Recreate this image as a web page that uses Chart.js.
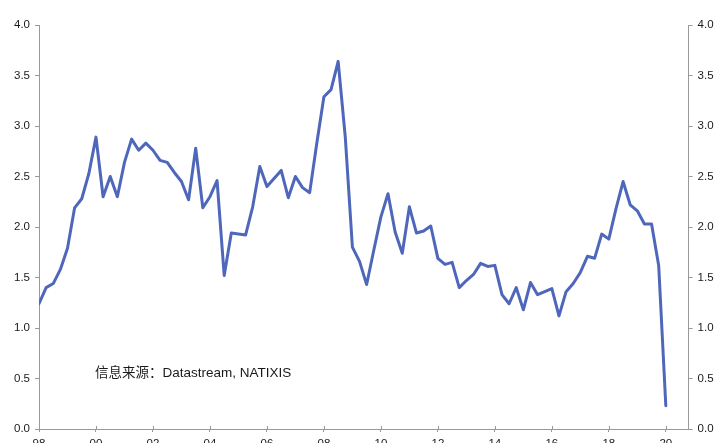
<!DOCTYPE html>
<html>
<head>
<meta charset="utf-8">
<script src="https://cdn.jsdelivr.net/npm/chart.js@4/dist/chart.umd.min.js"></script>
<style>
    html, body { margin: 0; padding: 0; background: #fff; overflow: hidden; }
    #wrap { width: 715px; height: 460px; }
</style>
</head>
<body>
<div id="wrap"><canvas id="lineChart" width="715" height="460"></canvas></div>
<script>
// Quartalswerte, 1998 Q1 bis 2020 Q1
const startYear = 1998;
const values = [
    1.24, 1.40, 1.44, 1.58, 1.79, 2.19, 2.28, 2.53,   // 98-99
    2.89, 2.30, 2.50, 2.30, 2.64, 2.87, 2.76, 2.83,   // 00-01
    2.76, 2.66, 2.64, 2.54, 2.45, 2.27, 2.78, 2.19,   // 02-03
    2.30, 2.46, 1.52, 1.94, 1.93, 1.92, 2.20, 2.60,   // 04-05
    2.40, 2.48, 2.56, 2.29, 2.50, 2.39, 2.34, 2.83,   // 06-07
    3.29, 3.36, 3.64, 2.89, 1.80, 1.66, 1.43, 1.77,   // 08-09
    2.10, 2.33, 1.95, 1.74, 2.20, 1.94, 1.96, 2.01,   // 10-11
    1.69, 1.63, 1.65, 1.40, 1.47, 1.53, 1.64, 1.61,   // 12-13
    1.62, 1.33, 1.24, 1.40, 1.18, 1.45, 1.33, 1.36,   // 14-15
    1.39, 1.12, 1.36, 1.44, 1.55, 1.71, 1.69, 1.93,   // 16-17
    1.88, 2.18, 2.45, 2.22, 2.16, 2.03, 2.03, 1.62,   // 18-19
    0.23                                              // 20
];
const yearTicks = [1998, 2000, 2002, 2004, 2006, 2008, 2010, 2012, 2014, 2016, 2018, 2020];
const sourceText = '信息来源：Datastream, NATIXIS';

const axisColor = '#999999';
const textColor = '#1a1a1a';
const lineColor = '#4F67BA';

const points = values.map((v, i) => ({ x: startYear + i / 4, y: v }));

// Striche an der x-Achse gehen nach oben und unten
const crossTicks = {
    id: 'crossTicks',
    afterDraw(chart) {
        const ctx = chart.ctx;
        const x = chart.scales.x;
        ctx.save();
        ctx.strokeStyle = axisColor;
        ctx.lineWidth = 1;
        yearTicks.forEach(t => {
            const px = Math.round(x.getPixelForValue(t)) + 0.5;
            ctx.beginPath();
            ctx.moveTo(px, x.top - 3);
            ctx.lineTo(px, x.top);
            ctx.stroke();
        });
        ctx.restore();
    }
};

// Quellenangabe im Diagramm
const sourceNote = {
    id: 'sourceNote',
    afterDraw(chart) {
        const ctx = chart.ctx;
        const px = chart.scales.x.getPixelForValue(2000) - 1;
        const py = chart.scales.y.getPixelForValue(0.55);
        ctx.save();
        ctx.font = '13.5px "Liberation Sans", "Noto Sans CJK SC", sans-serif';
        ctx.fillStyle = textColor;
        ctx.textAlign = 'left';
        ctx.textBaseline = 'middle';
        ctx.fillText(sourceText, px, py);
        ctx.restore();
    }
};

const tickFont = { family: '"Liberation Sans", Arial, sans-serif', size: 11.5 };

const ctx = document.getElementById('lineChart').getContext('2d');
new Chart(ctx, {
    type: 'line',
    data: {
        datasets: [{
            data: points,
            borderColor: lineColor,
            borderWidth: 3,
            borderJoinStyle: 'round',
            borderCapStyle: 'round',
            pointRadius: 0,
            tension: 0,
            fill: false,
            yAxisID: 'y'
        }]
    },
    options: {
        responsive: false,
        animation: false,
        layout: { padding: { top: 25, left: 0, right: 0, bottom: 0 } },
        plugins: {
            legend: { display: false },
            tooltip: { enabled: false }
        },
        scales: {
            x: {
                type: 'linear',
                min: 1998,
                max: 2020.8,
                afterFit: scale => { scale.height = 31; },
                grid: { drawOnChartArea: false, drawTicks: true, tickLength: 3, color: axisColor },
                border: { display: true, color: axisColor, width: 1 },
                ticks: {
                    stepSize: 2,
                    includeBounds: false,
                    autoSkip: false,
                    maxRotation: 0,
                    padding: 5,
                    color: textColor,
                    font: tickFont,
                    callback: v => String(v).slice(2)
                }
            },
            y: {
                position: 'left',
                min: 0,
                max: 4,
                afterFit: scale => { scale.width = 39; },
                grid: { drawOnChartArea: false, drawTicks: true, tickLength: 4, color: axisColor },
                border: { display: true, color: axisColor, width: 1 },
                ticks: {
                    stepSize: 0.5,
                    padding: 5,
                    color: textColor,
                    font: tickFont,
                    callback: v => v.toFixed(1)
                }
            },
            y1: {
                position: 'right',
                min: 0,
                max: 4,
                afterFit: scale => { scale.width = 26.4; },
                grid: { drawOnChartArea: false, drawTicks: true, tickLength: 4, color: axisColor },
                border: { display: true, color: axisColor, width: 1 },
                ticks: {
                    stepSize: 0.5,
                    padding: 5,
                    color: textColor,
                    font: tickFont,
                    callback: v => v.toFixed(1)
                }
            }
        }
    },
    plugins: [crossTicks, sourceNote]
});
</script>
</body>
</html>
